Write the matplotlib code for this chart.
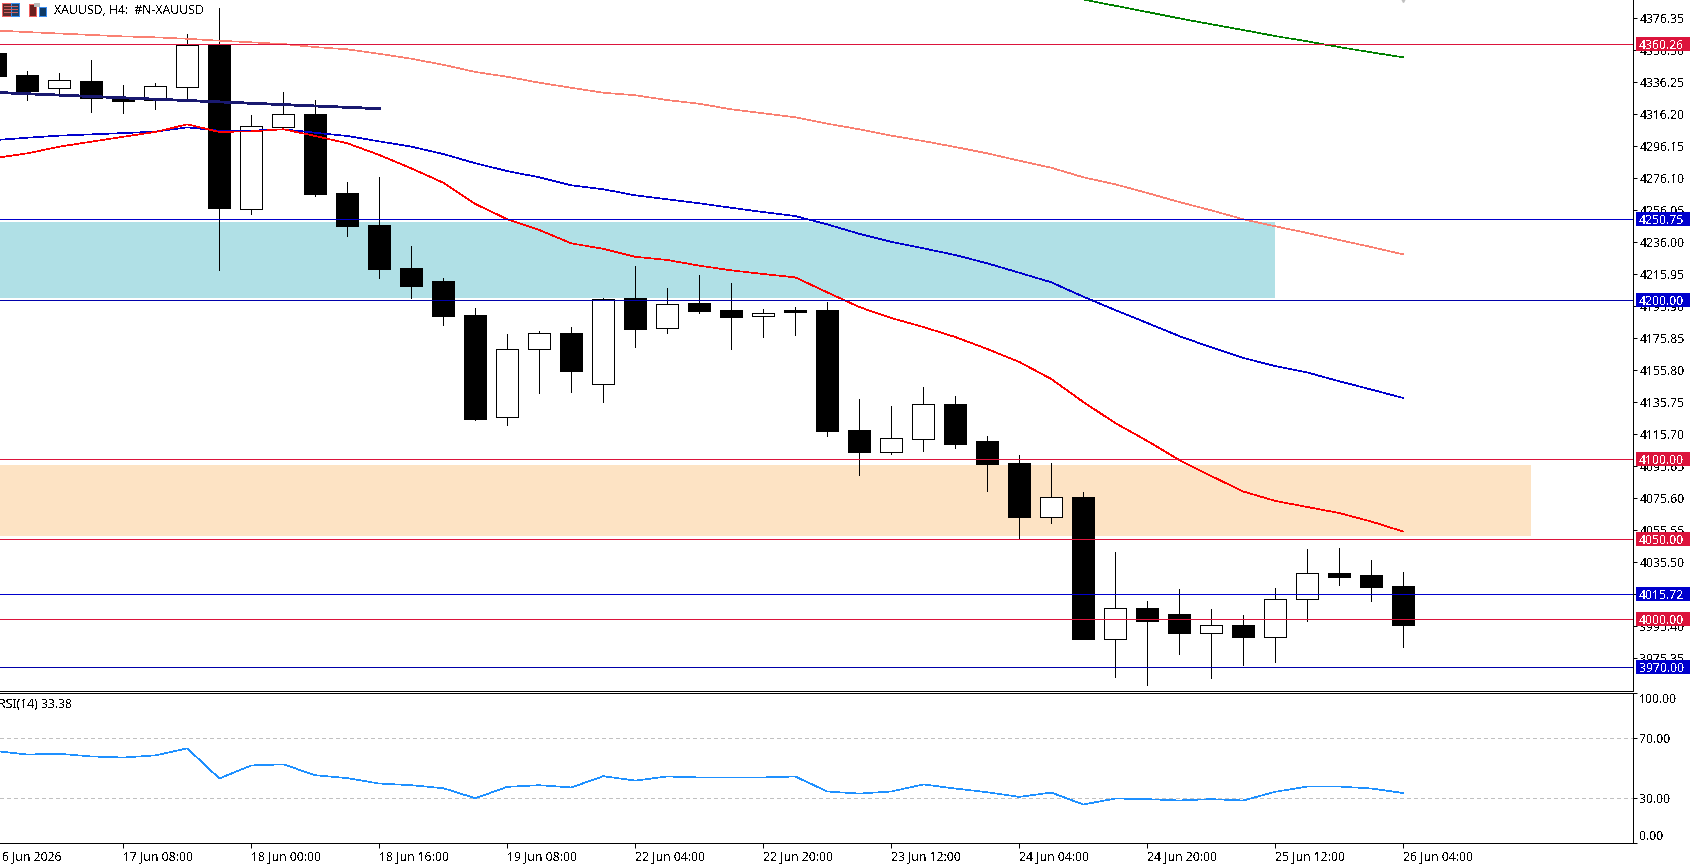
import matplotlib
matplotlib.use('Agg')
import matplotlib.pyplot as plt
from matplotlib.patches import Rectangle

W, H = 1693, 865

# Candles on the H4 chart, oldest first
opens = [4354.9, 4340.9, 4332.6, 4337.1, 4326.9, 4325.4, 4333.6, 4359.7, 4256.7, 4308.5, 4316.5,
         4267.0, 4246.9, 4220.0, 4211.8, 4190.5, 4126.4, 4169.0, 4179.0, 4147.1, 4201.0, 4182.2,
         4198.0, 4193.6, 4190.1, 4193.6, 4193.6, 4118.4, 4104.8, 4113.0, 4134.7, 4111.6, 4097.8,
         4064.1, 4076.5, 3987.7, 4006.9, 4003.2, 3991.4, 3996.3, 3988.9, 4012.7, 4028.8, 4027.6,
         4020.7]
highs = [4354.9, 4343.4, 4342.1, 4350.3, 4334.6, 4335.9, 4366.6, 4382.9, 4315.8, 4330.2, 4325.2,
         4273.8, 4277.0, 4233.7, 4213.7, 4194.9, 4178.6, 4180.5, 4183.0, 4201.2, 4221.2, 4207.4,
         4215.6, 4210.6, 4194.3, 4195.5, 4198.7, 4137.9, 4133.5, 4145.4, 4139.8, 4114.7, 4102.8,
         4097.8, 4079.6, 4042.0, 4011.3, 4018.8, 4006.3, 4002.5, 4019.4, 4043.9, 4044.5, 4037.0,
         4029.5]
lows = [4340.3, 4325.4, 4329.0, 4317.9, 4317.3, 4319.8, 4325.2, 4218.7, 4254.0, 4306.9, 4265.3,
        4240.0, 4213.9, 4201.3, 4184.4, 4124.9, 4121.8, 4141.8, 4142.4, 4136.2, 4170.6, 4179.4,
        4191.9, 4169.4, 4176.9, 4178.2, 4114.9, 4090.2, 4103.4, 4105.3, 4107.2, 4080.2, 4050.0,
        4060.2, 3987.7, 3963.9, 3958.9, 3978.1, 3963.2, 3971.2, 3973.1, 3999.0, 4021.3, 4011.3,
        3982.5]
closes = [4340.3, 4330.9, 4337.6, 4326.7, 4324.8, 4333.8, 4359.5, 4257.7, 4308.7, 4316.3, 4266.5,
          4246.5, 4219.5, 4208.9, 4190.1, 4125.5, 4169.0, 4179.0, 4155.6, 4200.7, 4181.9, 4197.2,
          4193.2, 4189.4, 4191.6, 4192.6, 4118.0, 4104.8, 4113.2, 4134.5, 4109.9, 4097.3, 4064.1,
          4076.3, 3987.7, 4006.7, 3999.0, 3991.4, 3996.1, 3988.7, 4012.4, 4028.7, 4026.3, 4020.1,
          3996.3]

# Moving averages, one value per bar
ma_fast = [4288.9, 4291.8, 4296.0, 4299.1, 4302.2, 4305.2, 4310.0, 4305.2, 4305.6, 4306.9, 4302.7,
           4298.1, 4290.8, 4282.4, 4273.4, 4260.1, 4250.5, 4243.8, 4235.4, 4232.0, 4227.0, 4225.0,
           4221.4, 4218.5, 4216.2, 4214.1, 4204.7, 4195.5, 4188.6, 4183.0, 4176.7, 4169.2, 4161.1,
           4150.4, 4136.0, 4122.8, 4111.6, 4099.6, 4089.6, 4079.9, 4074.0, 4070.2, 4066.4, 4061.1,
           4054.8]
ma_mid = [4300.1, 4301.6, 4302.9, 4303.7, 4304.5, 4305.4, 4308.1, 4306.0, 4306.0, 4306.9, 4304.7,
          4302.7, 4299.3, 4296.0, 4291.4, 4285.6, 4280.7, 4276.8, 4271.8, 4269.3, 4265.5, 4263.0,
          4260.5, 4257.7, 4255.0, 4252.5, 4247.3, 4241.4, 4236.4, 4232.3, 4228.1, 4222.9, 4217.0,
          4211.0, 4202.0, 4193.6, 4185.5, 4177.3, 4170.2, 4163.6, 4158.5, 4154.5, 4149.0, 4143.8,
          4138.5]
ma_slow = [4368.8, 4367.8, 4366.9, 4366.0, 4365.1, 4364.5, 4363.6, 4362.4, 4361.4, 4360.3, 4358.4,
           4357.0, 4354.2, 4351.1, 4347.3, 4342.8, 4339.8, 4336.1, 4332.9, 4329.8, 4328.2, 4325.2,
           4322.9, 4319.4, 4316.9, 4314.4, 4310.4, 4306.9, 4302.9, 4299.5, 4295.8, 4291.8, 4287.2,
           4282.8, 4276.8, 4272.4, 4267.0, 4261.3, 4256.1, 4250.5, 4246.1, 4241.9, 4237.5, 4233.1,
           4228.5]
# the long one only comes into view over the last bars
ma_long_bars = [33, 34, 35, 36, 37, 38, 39, 40, 41, 42, 43]
ma_long = [4388.2, 4384.3, 4380.4, 4376.4, 4372.7, 4369.1, 4365.3, 4362.0, 4358.4, 4355.1, 4352.0]

rsi = [61.4, 59.1, 59.6, 57.8, 57.1, 58.5, 63.2, 43.1, 51.8, 52.5, 45.3,
       43.3, 39.7, 38.6, 36.6, 29.9, 37.5, 38.6, 37.1, 44.6, 41.7, 44.4,
       43.8, 43.8, 43.8, 44.4, 34.4, 33.0, 34.4, 39.1, 36.4, 33.9, 30.8,
       33.7, 25.7, 29.7, 29.3, 28.4, 29.3, 28.4, 34.2, 37.7, 37.7, 36.4,
       33.38]

# Horizontal levels: price, colour of line, colour of price tag
level_prices = [4360.26, 4250.75, 4200.00, 4100.00, 4050.00, 4015.72, 4000.00, 3970.00]
level_lines = ['#DC143C', '#0000CD', '#0000AA', '#DC143C', '#DC143C', '#0000CD', '#DC143C', '#0000AA']
level_tags = ['#DC143C', '#0000CD', '#0000CD', '#DC143C', '#DC143C', '#0000CD', '#DC143C', '#0000CD']

# Zones: top price, bottom price, last bar
zone_tops = [4248.8, 4096.5]
zone_bottoms = [4201.3, 4052.2]
zone_ends = [39, 47]
zone_colors = ['#B0E0E6', '#FDE3C4']

# Trendline through the first bars
trend_bars = [-1, 11]
trend_prices = [4330.0, 4319.8]

price_ticks = [4376.35, 4356.30, 4336.25, 4316.20, 4296.15, 4276.10, 4256.05, 4236.00, 4215.95,
               4195.90, 4175.85, 4155.80, 4135.75, 4115.70, 4095.65, 4075.60, 4055.55, 4035.50,
               4015.45, 3995.40, 3975.35]
rsi_ticks = [100, 70, 30, 0]
date_bars = [-1, 3, 7, 11, 15, 19, 23, 27, 31, 35, 39, 43]
date_labels = ['16 Jun 2026', '17 Jun 08:00', '18 Jun 00:00', '18 Jun 16:00', '19 Jun 08:00', '22 Jun 04:00',
               '22 Jun 20:00', '23 Jun 12:00', '24 Jun 04:00', '24 Jun 20:00', '25 Jun 12:00', '26 Jun 04:00']

FONT = 8.8
PX = 0.72  # one pixel in points at dpi 100

plt.rcParams['font.family'] = ['Noto Sans', 'DejaVu Sans']
plt.rcParams['font.size'] = FONT
plt.rcParams['lines.antialiased'] = False
plt.rcParams['patch.antialiased'] = False
plt.rcParams['text.antialiased'] = False
plt.rcParams['axes.linewidth'] = PX

bars = list(range(-1, len(opens) - 1))
XLIM = (-0.853, 50.18)

fig = plt.figure(figsize=(W / 100, H / 100), dpi=100, facecolor='white')


def add_axes_px(left, top, right, bottom):
    return fig.add_axes([left / W, 1 - bottom / H, (right - left) / W, (bottom - top) / H])


ax = add_axes_px(0, 0, 1633, 690.5)
ax_rsi = add_axes_px(0, 692.5, 1633, 843)

for a in (ax, ax_rsi):
    a.yaxis.tick_right()
    a.spines['left'].set_visible(False)
    a.spines['top'].set_visible(False)
    a.tick_params(axis='y', length=3, width=PX, pad=1.5, labelsize=FONT)
ax_rsi.spines['top'].set_visible(True)

ax.set_ylim(3955.2, 4387.9)
ax.set_yticks(price_ticks)
ax.set_yticklabels([f'{t:.2f}' for t in price_ticks])
ax.tick_params(axis='x', bottom=False, labelbottom=False)

# zones sit behind the candles
for top, bottom, end, color in zip(zone_tops, zone_bottoms, zone_ends, zone_colors):
    ax.fill_between([-2, end], bottom, top, color=color, lw=0, zorder=1)

# candles
up = [c >= o for o, c in zip(opens, closes)]
ax.vlines(bars, lows, highs, color='black', lw=PX, zorder=2)
ax.bar(bars, [abs(c - o) for o, c in zip(opens, closes)], bottom=[min(o, c) for o, c in zip(opens, closes)],
       width=0.69, color=['white' if u else 'black' for u in up], edgecolor='black', lw=PX, zorder=3)

# moving averages and trendline
MA_LW = 0.45
ax.plot(bars, ma_slow, color='#FA8072', lw=MA_LW, zorder=4)
ax.plot(bars, ma_mid, color='#0000CD', lw=MA_LW, zorder=4)
ax.plot(bars, ma_fast, color='#FF0000', lw=MA_LW, zorder=4)
ax.plot(ma_long_bars, ma_long, color='#008000', lw=MA_LW, zorder=4)
ax.plot(trend_bars, trend_prices, color='#191970', lw=1.3, zorder=4)
ax.plot([43], [4388.6], marker='v', ms=5, color='#C0C0C0', ls='none', zorder=4)

# levels and their price tags
tag_trans = ax.get_yaxis_transform()
for price, line_color, tag_color in zip(level_prices, level_lines, level_tags):
    ax.axhline(price, color=line_color, lw=PX, zorder=5)
    ax.add_patch(Rectangle((1636 / 1633, price - 4.4), 54 / 1633, 8.8, transform=tag_trans,
                           facecolor=tag_color, edgecolor='none', clip_on=False, zorder=6))
    ax.text(1639 / 1633, price, f'{price:.2f}', transform=tag_trans, color='white', fontsize=FONT,
            ha='left', va='center_baseline', clip_on=False, zorder=7)

# RSI panel
ax_rsi.set_ylim(0, 100.5)
ax_rsi.set_yticks(rsi_ticks)
ax_rsi.set_yticklabels([f'{t:.2f}' for t in rsi_ticks])
# the end labels stay inside the panel height
rsi_tick_labels = ax_rsi.get_yticklabels()
rsi_tick_labels[0].set_va('top')
rsi_tick_labels[-1].set_va('bottom')
for lvl in (70, 30):
    ax_rsi.axhline(lvl, color='#C0C0C0', lw=PX, ls=(0, (3.5, 3.5)), zorder=1)
ax_rsi.plot(bars, rsi, color='#1E90FF', lw=MA_LW, zorder=2)
ax_rsi.text(-0.93, 97, 'RSI(14) 33.38', fontsize=FONT, ha='left', va='top', color='black')

# time axis, labels start at the tick instead of centring on it
# the oldest label's tick lies just off the left edge, so it is placed by hand
ax_rsi.set_xticks(date_bars[1:])
ax_rsi.set_xticklabels(date_labels[1:], ha='left')
ax_rsi.tick_params(axis='x', length=3.5, width=PX, pad=1.5, labelsize=FONT)
ax.set_xlim(*XLIM)
ax_rsi.set_xlim(*XLIM)
ax_rsi.annotate(date_labels[0], xy=(date_bars[0], 0), xycoords=ax_rsi.get_xaxis_transform(),
                xytext=(0, -5.0), textcoords='offset points', ha='left', va='top', fontsize=FONT,
                annotation_clip=False)

# chart title and the two small toolbar icons
fig.text(54.5 / W, 1 - 10.7 / H, 'XAUUSD, H4:  #N-XAUUSD', fontsize=FONT, ha='left', va='center', color='black')


def icon_rect(x, y, w, h, color, edge='none'):
    fig.add_artist(Rectangle((x / W, 1 - (y + h) / H), w / W, h / H, transform=fig.transFigure,
                             facecolor=color, edgecolor=edge, lw=PX))


icon_rect(2, 3, 9, 13, '#5A2A2A', '#F06060')
icon_rect(11, 3, 8, 13, '#1F3F66', '#3A8DF0')
for yy in (6, 9, 12):
    icon_rect(4, yy, 14, 1, '#D06060')
icon_rect(29, 4, 7, 12, '#6B1E1E', '#F06060')
icon_rect(39, 7, 7, 9, '#0F3A66', '#3A8DF0')
icon_rect(34, 3, 6, 4, '#BBBBBB')

fig.savefig('out.png', dpi=100, facecolor='white')
